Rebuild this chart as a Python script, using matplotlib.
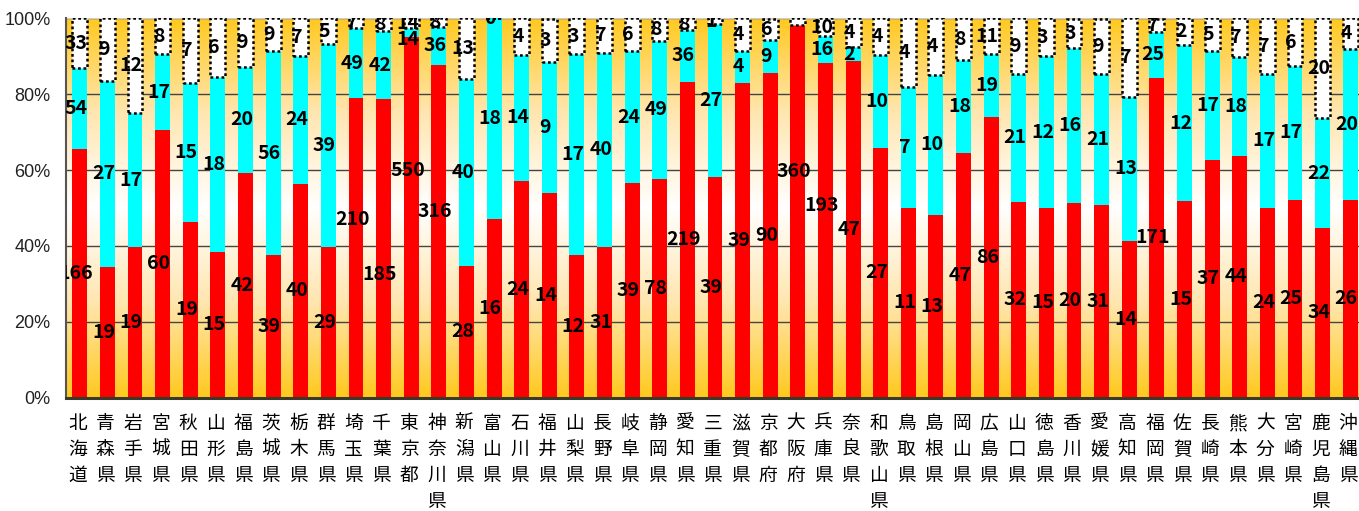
import numpy as np
import matplotlib
matplotlib.use("Agg")
import matplotlib.pyplot as plt
from matplotlib.colors import LinearSegmentedColormap

# --- Data ---
prefs = ["北海道", "青森県", "岩手県", "宮城県", "秋田県", "山形県", "福島県",
         "茨城県", "栃木県", "群馬県", "埼玉県", "千葉県", "東京都", "神奈川県",
         "新潟県", "富山県", "石川県", "福井県", "山梨県", "長野県", "岐阜県",
         "静岡県", "愛知県", "三重県", "滋賀県", "京都府", "大阪府", "兵庫県",
         "奈良県", "和歌山県", "鳥取県", "島根県", "岡山県", "広島県", "山口県",
         "徳島県", "香川県", "愛媛県", "高知県", "福岡県", "佐賀県", "長崎県",
         "熊本県", "大分県", "宮崎県", "鹿児島県", "沖縄県"]

red_vals = [166, 19, 19, 60, 19, 15, 42, 39, 40, 29, 210, 185, 550, 316,
            28, 16, 24, 14, 12, 31, 39, 78, 219, 39, 39, 90, 360, 193,
            47, 27, 11, 13, 47, 86, 32, 15, 20, 31, 14, 171, 15, 37,
            44, 24, 25, 34, 26]
cyan_vals = [54, 27, 17, 17, 15, 18, 20, 56, 24, 39, 49, 42, 14, 36,
             40, 18, 14, 9, 17, 40, 24, 49, 36, 27, 4, 9, 0, 16,
             2, 10, 7, 10, 18, 19, 21, 12, 16, 21, 13, 25, 12, 17,
             18, 17, 17, 22, 20]
white_vals = [33, 9, 12, 8, 7, 6, 9, 9, 7, 5, 7, 8, 14, 8,
              13, 0, 4, 3, 3, 7, 6, 8, 8, 1, 4, 6, 6, 10,
              4, 4, 4, 4, 8, 11, 9, 3, 3, 9, 7, 7, 2, 5,
              7, 7, 6, 20, 4]
no_label = ["大阪府"]  # only the red value is printed for this one

red = np.array(red_vals, dtype=float)
cyan = np.array(cyan_vals, dtype=float)
white = np.array(white_vals, dtype=float)
total = red + cyan + white
p_red = red / total * 100
p_cyan = cyan / total * 100
p_white = white / total * 100

# hand-moved label heights (percent) so big numbers don't collide
red_label_y = {"埼玉県": 47, "千葉県": 32.5, "東京都": 60, "神奈川県": 49,
               "大阪府": 59.5, "兵庫県": 50.7}
cyan_label_y = {"東京都": 94.4}

# --- Figure ---
W, H = 1359, 511
fig = plt.figure(figsize=(W / 100, H / 100), dpi=100)
ax = fig.add_axes([66 / W, (H - 397.5) / H, (1364 - 66) / W, 379 / H])

n = len(prefs)
x = np.arange(n)
ax.set_xlim(-0.5, n - 0.5)
ax.set_ylim(0, 100)

# gold -> white -> gold background
cmap = LinearSegmentedColormap.from_list("bg", ["#ffc91f", "#ffe6b0", "#ffffff", "#ffe6b0", "#ffc91f"])
ax.imshow(np.linspace(0, 1, 256).reshape(-1, 1), cmap=cmap, aspect="auto",
          extent=(-0.5, n - 0.5, 0, 100), origin="lower", zorder=0)

ax.yaxis.grid(True, color="#444444", linewidth=1.0, zorder=1)
ax.set_axisbelow(True)

bw = 0.54
ax.bar(x, p_red, bw, color="#ff0000", zorder=2)
ax.bar(x, p_cyan, bw, bottom=p_red, color="#00ffff", zorder=2)
ax.bar(x, p_white, bw, bottom=p_red + p_cyan, facecolor="white",
       edgecolor="black", linewidth=1.8, linestyle=(0, (1.1, 1.1)), zorder=3)

# value labels
lab_kw = dict(ha="center", va="center", fontsize=14, fontweight="bold",
              family=["Noto Sans CJK JP", "DejaVu Sans"], color="black",
              zorder=5, clip_on=True)
dx = -0.14
for i in range(n):
    name = prefs[i]
    ax.text(x[i] + dx, red_label_y.get(name, p_red[i] / 2), str(red_vals[i]), **lab_kw)
    if name in no_label:
        continue
    ax.text(x[i] + dx, cyan_label_y.get(name, p_red[i] + p_cyan[i] / 2),
            str(cyan_vals[i]), **lab_kw)
    ax.text(x[i] + dx, p_red[i] + p_cyan[i] + p_white[i] / 2, str(white_vals[i]), **lab_kw)

# axes styling
ax.set_yticks([0, 20, 40, 60, 80, 100])
ax.set_yticklabels(["0%", "20%", "40%", "60%", "80%", "100%"],
                   family=["Liberation Sans", "DejaVu Sans"], fontsize=13, color="#222222")
ax.tick_params(axis="y", length=0, pad=11)
ax.set_xticks([])
for s in ["top", "right"]:
    ax.spines[s].set_visible(False)
ax.spines["left"].set_color("#555555")
ax.spines["left"].set_linewidth(1.5)
ax.spines["bottom"].set_color("#3a3a2a")
ax.spines["bottom"].set_linewidth(2.2)
ax.axhline(100, color="#cccccc", linewidth=1.0, zorder=1)

# vertical prefecture names, one character per line
for i, name in enumerate(prefs):
    for j, ch in enumerate(name):
        ax.annotate(ch, xy=(x[i] - 0.08, 0), xycoords=("data", "axes fraction"),
                    xytext=(0, -26 - 26 * j), textcoords="offset pixels",
                    ha="center", va="center", fontsize=13.5,
                    family=["Noto Sans CJK JP", "DejaVu Sans"], color="black",
                    annotation_clip=False)

fig.savefig("out.png", dpi=100)
